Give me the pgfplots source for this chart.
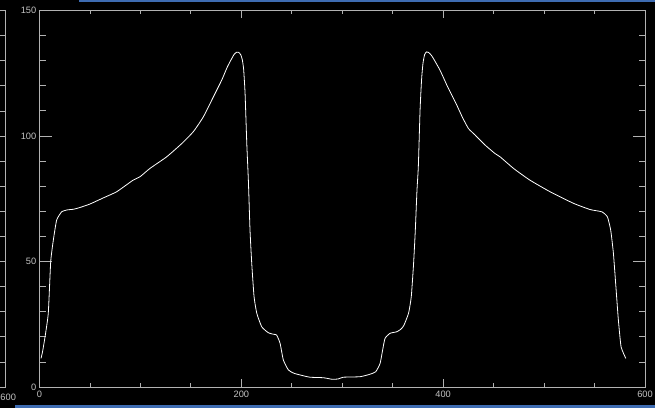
\documentclass[border=0pt]{standalone}
\usepackage{pgfplots}
\pgfplotsset{compat=1.18}
\usepackage{fontspec}
\setmainfont{Liberation Sans}
\definecolor{axgray}{RGB}{178,178,178}
\definecolor{labgray}{RGB}{195,195,195}
\definecolor{stripblue}{RGB}{62,108,178}
\begin{document}
\begin{tikzpicture}[x=1bp,y=1bp]
\fill[black] (0,0) rectangle (655,408);
\fill[stripblue] (79,406) rectangle (655,408);
\fill[stripblue] (15,0) rectangle (655,3);
\begin{scope}
\clip (0,0) rectangle (655,408);
\draw[axgray, line width=0.8bp] (-10,397.5) -- (5.5,397.5) -- (5.5,21) -- (-10,21);
\foreach \k in {1,...,14} \draw[axgray, line width=0.8bp] (5.5,21+\k*25.1) -- ++(-6,0);
\node[labgray, font=\fontsize{9.3}{10}\selectfont, inner sep=0pt, anchor=west] at (0.3,11) {600};
\end{scope}
\begin{axis}[
  at={(39.5bp,21bp)}, anchor=south west, scale only axis,
  width=605.5bp, height=376.5bp,
  xmin=0, xmax=600, ymin=0, ymax=150,
  xtick={0,200,400,600}, ytick={0,50,100,150},
  minor x tick num=3, minor y tick num=4,
  tick align=inside, tick pos=both,
  axis line style={axgray, line width=0.8bp},
  every tick/.style={axgray, line width=0.8bp},
  major tick length=12bp, minor tick length=6bp,
  xtick style={/pgfplots/major tick length=8bp, /pgfplots/minor tick length=4bp},
  /pgf/number format/assume math mode=true,
  ticklabel style={labgray, font=\fontsize{9.3}{10}\selectfont, inner sep=0pt},
  yticklabel style={anchor=east, xshift=-3bp},
  xticklabel style={anchor=north, yshift=-4bp},
]
\addplot[white, line width=0.8bp, smooth, tension=0.3] coordinates {
(1.5,11.4) (3,14) (5.5,20) (8.7,29.4) (11.1,49.9) (13.7,58.5) (17,66.5) (22,69.8)
(28,70.6) (33.5,70.8) (40,71.5) (50,72.9) (63,75.3) (76.5,77.8) (92.7,82.4) (99.7,83.8)
(109.5,87.1) (126,91.7) (141,97) (152.4,101.7) (162.3,107.6) (172.3,115.6) (180.6,122.3)
(186,127.4) (190,130.5) (193,132.6) (195.5,133.4) (197.5,133.3) (199.5,132.3) (201,130.3)
(202.3,126.5) (203.7,117) (205.4,97)
(207,82) (208.6,62.5) (210.3,49.3) (212.6,36) (215.3,29.4) (220.2,24) (226.8,21.6)
(232,21) (235,20.7) (238.4,17.4) (241.6,10.8) (246.6,6.8) (252,5.5) (258.2,4.8)
(268,3.9) (281.3,3.7) (289.6,3.1) (296,3.2) (301,3.9) (317.6,4.1) (327.6,5.1)
(333.2,6.1) (337.5,9.4) (340,14.7) (342.4,19.4) (347.4,21.4) (354,22) (358,23)
(361,24.5) (365.7,29.4) (368.4,36) (370.7,49.3) (372.4,62.5) (374,78) (375.4,88)
(377.1,110.3) (378.6,122.5) (380,129) (381.6,132.4) (383.5,133.5) (385.5,133.3)
(388,132.3) (390.3,130.9)
(396.9,126.2) (403.6,120.3) (408.5,116.3) (413.5,112.3) (419,107.5) (425,103) (431.6,100.4) (441.5,96.4)
(451.4,93) (456.4,91.7) (470,87) (486,82.4) (505.9,77.8) (529,73.2) (545.6,70.7)
(557.2,69.8) (562.7,67.8) (566,62.5) (568.7,53.2) (571.4,38.6) (573.6,26.7)
(576.3,16) (581,11.4)
};
\end{axis}
\pgfresetboundingbox
\useasboundingbox (0,0) rectangle (655,408);
\end{tikzpicture}
\end{document}
